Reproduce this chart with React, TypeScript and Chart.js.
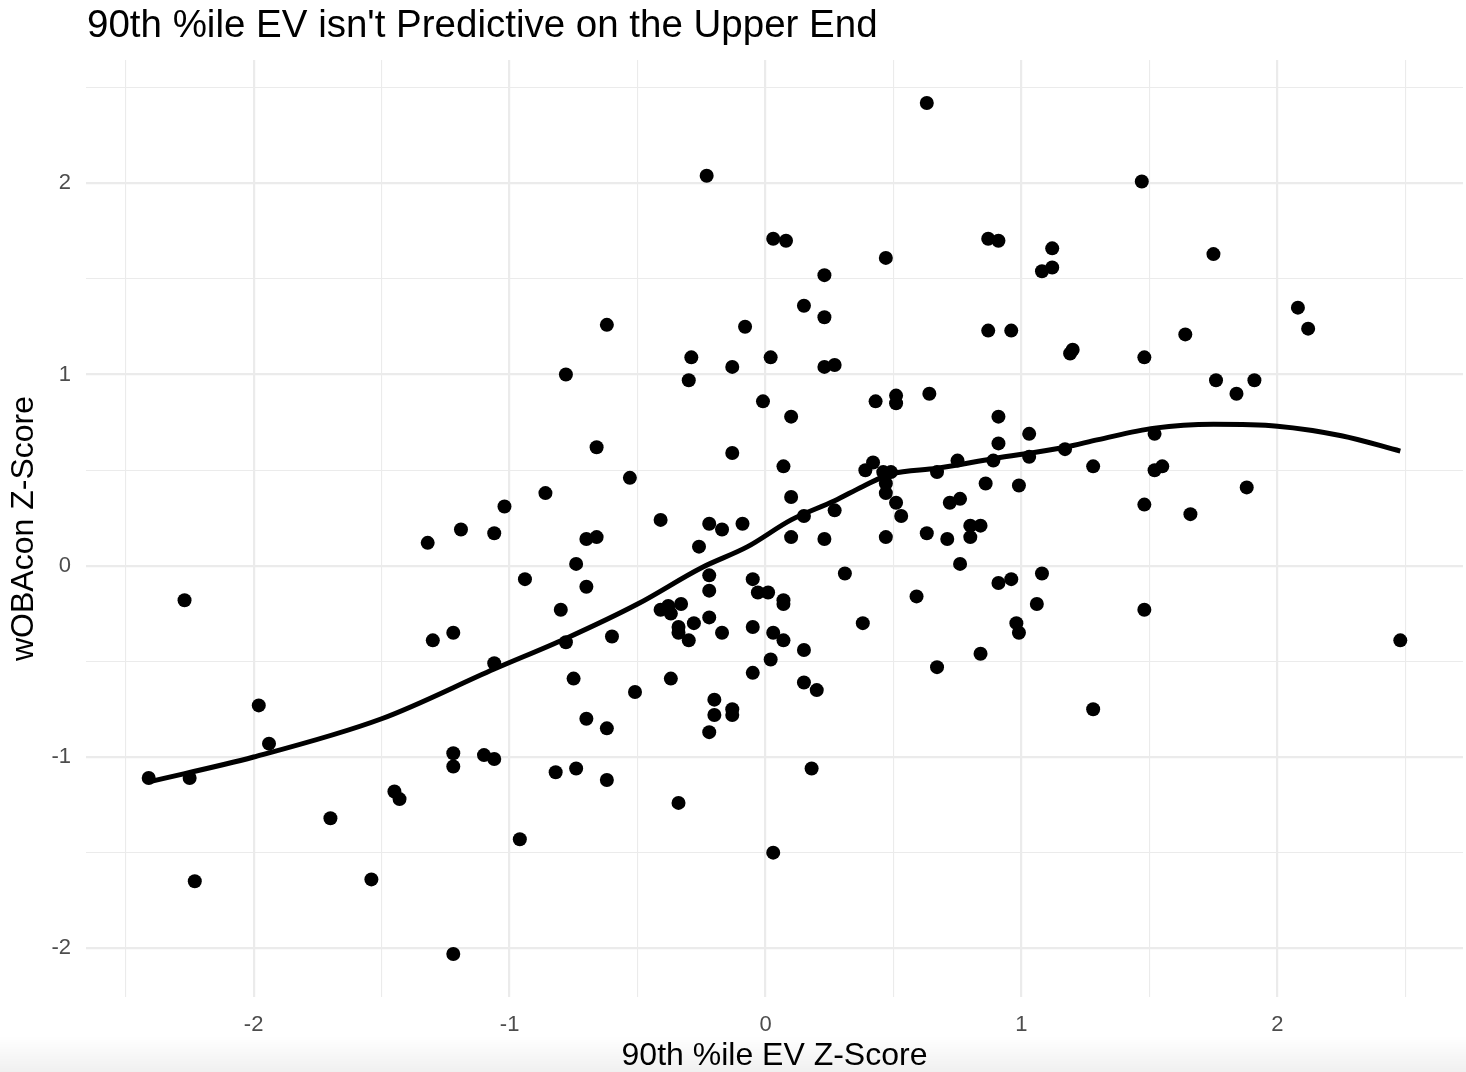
import { useEffect, useRef } from 'react';
import Chart from 'chart.js/auto';

// 90th percentile exit velocity z-score (x) vs wOBAcon z-score (y), one pair per player
const evZ = [
  -2.27, -1.30, -1.22, -1.06, -1.98, -1.94, -2.41, -2.25, -1.45, -1.43,
  -1.70, -1.22, -1.22, -1.10, -1.06, -2.23, -1.54, -1.22, -0.23, 0.03,
  0.08, -0.62, -0.08, -0.29, 0.02, -0.13, -0.78, -0.30, -0.01, 0.10,
  -0.66, -0.13, -0.53, 0.07, -0.86, -1.02, -1.19, -1.06, -1.32, 0.10,
  -0.41, -0.22, -0.17, -0.09, -0.26, 0.10, -0.70, -0.66, -0.74, -0.94,
  -0.70, -0.80, -0.78, -0.60, -0.75, -0.51, -0.70, -0.62, -0.82, -0.74,
  -0.62, -0.34, -0.96, 0.03, -0.22, -0.22, -0.05, -0.03, 0.01, 0.07,
  0.07, -0.41, -0.38, -0.37, -0.33, -0.34, -0.28, -0.34, -0.30, -0.22,
  -0.17, -0.05, 0.03, 0.07, 0.02, -0.05, -0.37, -0.20, -0.20, -0.13,
  -0.13, -0.22, 0.63, 0.47, 0.23, 0.87, 0.91, 1.12, 1.08, 1.12,
  0.15, 0.23, 0.87, 0.96, 0.23, 0.27, 1.19, 1.20, 0.43, 0.51,
  0.51, 0.64, 0.91, 0.91, 1.03, 1.03, 1.17, 1.28, 0.89, 0.75,
  0.42, 0.39, 0.46, 0.49, 0.47, 0.47, 0.51, 0.53, 0.15, 0.27,
  0.23, 0.47, 0.67, 0.86, 0.99, 0.72, 0.76, 0.80, 0.84, 0.80,
  0.63, 0.71, 0.76, 0.31, 0.59, 0.38, 0.15, 0.15, 0.20, 0.67,
  0.84, 0.91, 0.96, 1.08, 1.06, 0.98, 0.99, 1.28, 0.18, 1.47,
  1.75, 2.08, 2.12, 1.64, 1.48, 1.76, 1.91, 1.84, 1.52, 1.52,
  1.55, 1.88, 1.48, 1.66, 1.48, 2.48,
];

const wobaZ = [
  -0.18, -0.39, -0.35, -0.51, -0.73, -0.93, -1.11, -1.11, -1.18, -1.22,
  -1.32, -0.98, -1.05, -0.99, -1.01, -1.65, -1.64, -2.03, 2.04, 1.71,
  1.70, 1.26, 1.25, 1.09, 1.09, 1.04, 1.00, 0.97, 0.86, 0.78,
  0.62, 0.59, 0.46, 0.52, 0.38, 0.31, 0.19, 0.17, 0.12, 0.36,
  0.24, 0.22, 0.19, 0.22, 0.10, 0.15, 0.14, 0.15, 0.01, -0.07,
  -0.11, -0.23, -0.40, -0.37, -0.59, -0.66, -0.80, -0.85, -1.08, -1.06,
  -1.12, -1.24, -1.43, -1.50, -0.05, -0.13, -0.07, -0.14, -0.14, -0.18,
  -0.20, -0.23, -0.21, -0.25, -0.20, -0.32, -0.30, -0.35, -0.39, -0.27,
  -0.35, -0.32, -0.35, -0.39, -0.49, -0.56, -0.59, -0.70, -0.78, -0.75,
  -0.78, -0.87, 2.42, 1.61, 1.52, 1.71, 1.70, 1.66, 1.54, 1.56,
  1.36, 1.30, 1.23, 1.23, 1.04, 1.05, 1.11, 1.13, 0.86, 0.89,
  0.85, 0.90, 0.78, 0.64, 0.69, 0.57, 0.61, 0.52, 0.55, 0.55,
  0.54, 0.50, 0.49, 0.49, 0.43, 0.38, 0.33, 0.26, 0.26, 0.29,
  0.14, 0.15, 0.49, 0.43, 0.42, 0.33, 0.35, 0.21, 0.21, 0.15,
  0.17, 0.14, 0.01, -0.04, -0.16, -0.30, -0.44, -0.61, -0.65, -0.53,
  -0.46, -0.09, -0.07, -0.04, -0.20, -0.30, -0.35, -0.75, -1.06, 2.01,
  1.63, 1.35, 1.24, 1.21, 1.09, 0.97, 0.97, 0.90, 0.69, 0.50,
  0.52, 0.41, 0.32, 0.27, -0.23, -0.39,
];

// loess smoother
const smoothX = [-2.41, -2.0, -1.5, -1.06, -0.78, -0.5, -0.25, -0.07, 0.1, 0.27, 0.38, 0.49, 0.67, 0.89, 1.17, 1.3, 1.52, 1.75, 2.0, 2.25, 2.48];
const smoothY = [-1.13, -1.0, -0.8, -0.54, -0.38, -0.2, -0.01, 0.1, 0.24, 0.34, 0.415, 0.48, 0.51, 0.56, 0.62, 0.66, 0.72, 0.74, 0.73, 0.68, 0.6];

// grid positions (whole numbers are labelled, halves are minor lines)
const xGrid = [-2.5, -2, -1.5, -1, -0.5, 0, 0.5, 1, 1.5, 2, 2.5];
const yGrid = [-2, -1.5, -1, -0.5, 0, 0.5, 1, 1.5, 2, 2.5];

const TITLE = "90th %ile EV isn't Predictive on the Upper End";
const FONT = '"Liberation Sans", Arial, Helvetica, sans-serif';

const titlePlugin = {
  id: 'plotTitle',
  afterDraw(chart: any) {
    const { ctx, chartArea } = chart;
    ctx.save();
    ctx.font = `38.5px ${FONT}`;
    ctx.fillStyle = '#000';
    ctx.textAlign = 'left';
    ctx.textBaseline = 'alphabetic';
    ctx.fillText(TITLE, chartArea.left + 1, 37);
    ctx.restore();
  },
};

const gridWidth = (c: any) => (Number.isInteger(c.tick?.value) ? 2.2 : 1.1);
const tickLabel = (v: any) => (Number.isInteger(Number(v)) ? String(v) : '');

export default function App() {
  const canvasRef = useRef<HTMLCanvasElement>(null);

  useEffect(() => {
    if (!canvasRef.current) return;
    const chart = new Chart(canvasRef.current, {
      type: 'scatter',
      data: {
        datasets: [
          {
            label: 'loess',
            data: smoothX.map((x, i) => ({ x, y: smoothY[i] })),
            showLine: true,
            borderColor: '#000',
            borderWidth: 5,
            pointRadius: 0,
            cubicInterpolationMode: 'monotone',
            order: 0,
          },
          {
            label: 'players',
            data: evZ.map((x, i) => ({ x, y: wobaZ[i] })),
            backgroundColor: '#000',
            pointRadius: 7,
            pointBorderWidth: 0,
            order: 1,
          },
        ],
      },
      options: {
        animation: false,
        responsive: true,
        maintainAspectRatio: false,
        events: [],
        layout: { autoPadding: false, padding: { top: 60, right: 3, bottom: 0, left: 0 } },
        plugins: {
          legend: { display: false },
          tooltip: { enabled: false },
        },
        scales: {
          x: {
            type: 'linear',
            min: -2.655,
            max: 2.725,
            afterBuildTicks: (s: any) => {
              s.ticks = xGrid.map((value) => ({ value }));
            },
            afterFit: (s: any) => {
              s.height = 75;
            },
            border: { display: false },
            grid: { color: '#ebebeb', lineWidth: gridWidth, drawTicks: false },
            ticks: {
              autoSkip: false,
              maxRotation: 0,
              padding: 15,
              color: '#4d4d4d',
              font: { family: FONT, size: 22 },
              callback: tickLabel,
            },
            title: {
              display: true,
              text: '90th %ile EV Z-Score',
              color: '#000',
              font: { family: FONT, size: 32, lineHeight: 1 },
              padding: { top: 0, bottom: 0 },
            },
          },
          y: {
            type: 'linear',
            min: -2.255,
            max: 2.645,
            afterBuildTicks: (s: any) => {
              s.ticks = yGrid.map((value) => ({ value }));
            },
            afterFit: (s: any) => {
              s.width = 86;
            },
            border: { display: false },
            grid: { color: '#ebebeb', lineWidth: gridWidth, drawTicks: false },
            ticks: {
              autoSkip: false,
              padding: 15,
              color: '#4d4d4d',
              font: { family: FONT, size: 22 },
              callback: tickLabel,
            },
            title: {
              display: true,
              text: 'wOBAcon Z-Score',
              color: '#000',
              font: { family: FONT, size: 32, lineHeight: 1 },
              padding: { top: 8, bottom: 0 },
            },
          },
        },
      },
      plugins: [titlePlugin],
    });
    return () => chart.destroy();
  }, []);

  return (
    <div style={{ position: 'absolute', left: 0, top: 0, width: 1466, height: 1072, overflow: 'hidden', background: '#fff' }}>
      <div style={{ position: 'absolute', left: 0, top: 0, width: 1466, height: 1072 }}>
        <canvas ref={canvasRef} />
      </div>
      <div
        style={{
          position: 'absolute',
          left: 0,
          top: 1036,
          width: 1466,
          height: 36,
          pointerEvents: 'none',
          background: 'linear-gradient(to bottom, rgba(0,0,0,0), rgba(0,0,0,0.06))',
        }}
      />
    </div>
  );
}
